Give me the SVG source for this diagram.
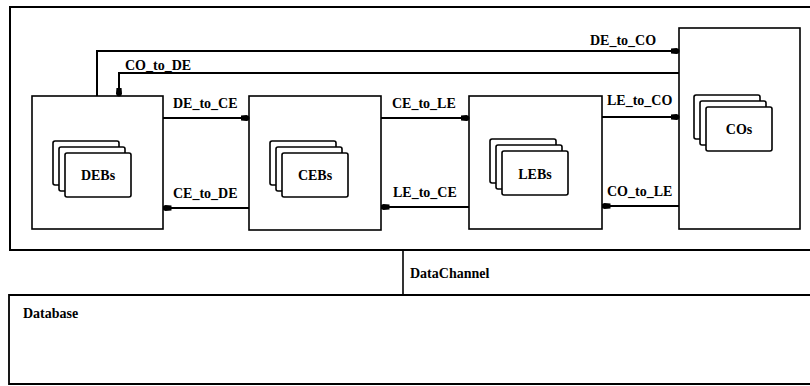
<svg xmlns="http://www.w3.org/2000/svg" width="810" height="386" viewBox="0 0 810 386">
<defs>
<marker id="ah" viewBox="0 -4 9 8" refX="8.5" refY="0" markerWidth="9" markerHeight="8" markerUnits="userSpaceOnUse" orient="auto">
<path d="M0,-2.5 L6,-3 Q9,-2.5 9,0 Q9,2.5 6,3 L0,2.5 Z" fill="#000"/>
</marker>
<g id="stack" fill="#fff" stroke="#000" stroke-width="1.6">
<rect x="0" y="0" width="66" height="44" rx="2"/>
<rect x="6" y="6" width="66" height="44" rx="2"/>
<rect x="12" y="12" width="66" height="44" rx="2"/>
</g>
</defs>
<style>
.frame{fill:none;stroke:#000;stroke-width:2}
.box{fill:#fff;stroke:#000;stroke-width:1.6}
.conn{fill:none;stroke:#000;stroke-width:2;marker-end:url(#ah)}
.lbl{font-family:"Liberation Serif","Times New Roman",serif;font-weight:bold;font-size:14px;fill:#000}
.name{font-family:"Liberation Serif","Times New Roman",serif;font-weight:bold;font-size:14px;fill:#000;text-anchor:middle;dominant-baseline:central}
.small{font-family:"Liberation Serif","Times New Roman",serif;font-weight:bold;font-size:14px;fill:#000}
</style>
<rect width="810" height="386" fill="#fff"/>
<g id="frame">
<path class="frame" d="M812,7 H10 V250 H812"/>
</g>
<g id="datachannel">
<path d="M403,250 V295" stroke="#000" stroke-width="1.6" fill="none"/>
<text class="small" x="410" y="278">DataChannel</text>
</g>
<g id="database">
<path d="M812,295 H9 V384 H812" fill="none" stroke="#000" stroke-width="1.8"/>
<text class="small" x="23" y="318">Database</text>
</g>
<g id="DEB">
<rect class="box" x="32" y="96" width="131" height="133"/>
<use href="#stack" x="53" y="141"/>
<text class="name" x="98" y="175">DEBs</text>
</g>
<g id="CEB">
<rect class="box" x="249" y="96" width="132" height="134"/>
<use href="#stack" x="270" y="141"/>
<text class="name" x="315" y="175">CEBs</text>
</g>
<g id="LEB">
<rect class="box" x="469" y="96" width="133" height="133"/>
<use href="#stack" x="490" y="139"/>
<text class="name" x="535" y="174">LEBs</text>
</g>
<g id="CO">
<rect class="box" x="679" y="28" width="121" height="201"/>
<use href="#stack" x="694" y="95"/>
<text class="name" x="739" y="129">COs</text>
</g>
<g id="connectors">
<path class="conn" d="M97,96 V51 H679"/>
<path class="conn" d="M679,73 H119 V96"/>
<path class="conn" d="M163,118 H249"/>
<path class="conn" d="M249,208 H163"/>
<path class="conn" d="M381,118 H469"/>
<path class="conn" d="M469,207 H381"/>
<path class="conn" d="M602,117 H679"/>
<path class="conn" d="M679,206 H602"/>
<text class="lbl" x="590" y="45">DE_to_CO</text>
<text class="lbl" x="125" y="70">CO_to_DE</text>
<text class="lbl" x="173" y="108">DE_to_CE</text>
<text class="lbl" x="173" y="198">CE_to_DE</text>
<text class="lbl" x="392" y="108">CE_to_LE</text>
<text class="lbl" x="393" y="197">LE_to_CE</text>
<text class="lbl" x="607" y="105">LE_to_CO</text>
<text class="lbl" x="607" y="196">CO_to_LE</text>
</g>
</svg>
